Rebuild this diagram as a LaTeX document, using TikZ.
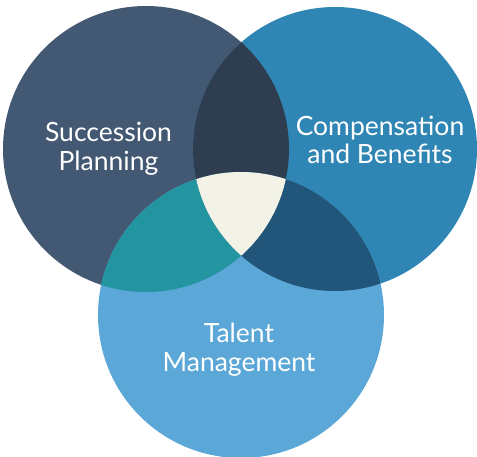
\documentclass[tikz,border=0pt]{standalone}
\usepackage{fontspec}
\setmainfont{Lato}
\definecolor{cSP}{HTML}{435872}
\definecolor{cCB}{HTML}{2F86B4}
\definecolor{cTM}{HTML}{5BA7D7}
\definecolor{cSPCB}{HTML}{2E3E50}
\definecolor{cSPTM}{HTML}{2395A0}
\definecolor{cCBTM}{HTML}{215579}
\definecolor{cAll}{HTML}{F3F2E7}
\tikzset{
  lbl/.style={text=white, align=center, font=\fontsize{26.5}{28.7}\selectfont, inner sep=0pt, anchor=base}
}
\def\cSPpath{(146,149) circle[radius=143]}
\def\cCBpath{(335,149) circle[radius=142]}
\def\cTMpath{(241,315) circle[radius=143]}
\begin{document}
\begin{tikzpicture}[x=1pt,y=-1pt]
\useasboundingbox (0,0) rectangle (477,457);
\fill[cSP] \cSPpath;
\fill[cCB] \cCBpath;
\fill[cTM] \cTMpath;
\begin{scope}
  \clip \cSPpath;
  \fill[cSPCB] \cCBpath;
  \fill[cSPTM] \cTMpath;
\end{scope}
\begin{scope}
  \clip \cCBpath;
  \fill[cCBTM] \cTMpath;
  \clip \cSPpath;
  \fill[cAll] \cTMpath;
\end{scope}
\node[lbl] (sp) at (108.5,170.3) {Succession\\Planning};
\node[lbl] (cb) at (380,164) {Compensation\\and Benefits};
\node[lbl] (tm) at (239,371.5) {Talent\\Management};
\end{tikzpicture}
\end{document}
